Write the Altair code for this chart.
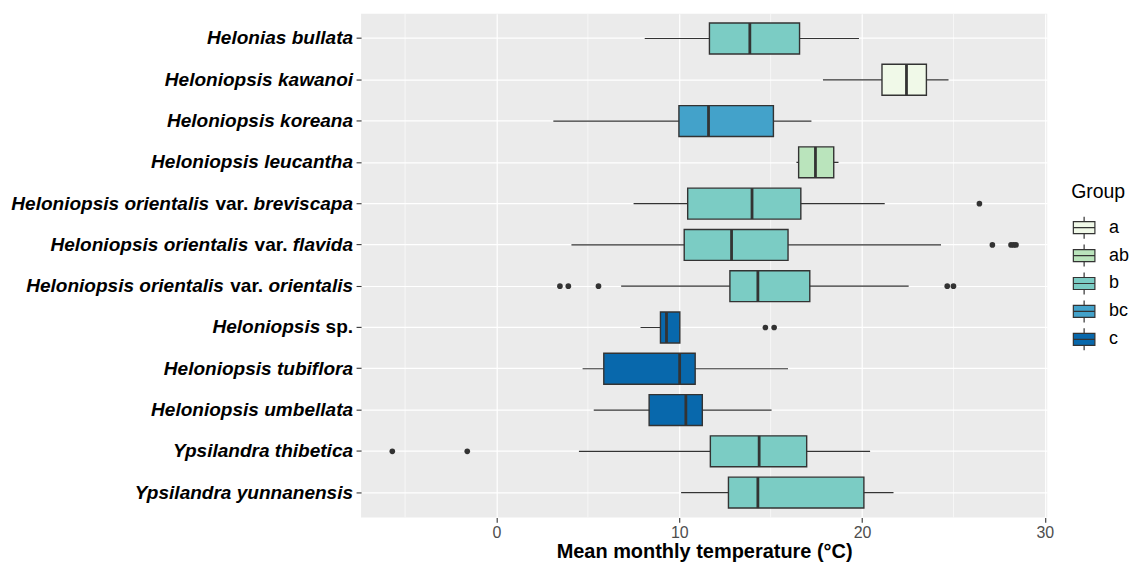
import altair as alt
import pandas as pd

# ---------------- data ----------------
species = [
    "Helonias bullata",
    "Heloniopsis kawanoi",
    "Heloniopsis koreana",
    "Heloniopsis leucantha",
    "Heloniopsis orientalis var. breviscapa",
    "Heloniopsis orientalis var. flavida",
    "Heloniopsis orientalis var. orientalis",
    "Heloniopsis sp.",
    "Heloniopsis tubiflora",
    "Heloniopsis umbellata",
    "Ypsilandra thibetica",
    "Ypsilandra yunnanensis",
]
group = ["b", "a", "bc", "ab", "b", "b", "b", "c", "c", "c", "b", "b"]
lower = [8.11, 17.86, 3.11, 16.41, 7.50, 4.10, 6.82, 7.88, 4.71, 5.32, 4.51, 10.10]
q1 = [11.65, 21.09, 9.98, 16.53, 10.46, 10.27, 12.77, 8.97, 5.87, 8.35, 11.70, 12.69]
median = [13.86, 22.43, 11.60, 17.45, 13.98, 12.86, 14.30, 9.30, 10.02, 10.36, 14.37, 14.30]
q3 = [16.58, 23.52, 15.15, 18.45, 16.65, 15.95, 17.14, 10.03, 10.87, 11.26, 16.97, 20.10]
upper = [19.83, 24.73, 17.23, 18.71, 21.24, 24.32, 22.55, 10.03, 15.95, 15.05, 20.44, 21.72]

outlier_species = [
    "Heloniopsis orientalis var. breviscapa",
    "Heloniopsis orientalis var. flavida",
    "Heloniopsis orientalis var. flavida",
    "Heloniopsis orientalis var. flavida",
    "Heloniopsis orientalis var. flavida",
    "Heloniopsis orientalis var. orientalis",
    "Heloniopsis orientalis var. orientalis",
    "Heloniopsis orientalis var. orientalis",
    "Heloniopsis orientalis var. orientalis",
    "Heloniopsis orientalis var. orientalis",
    "Heloniopsis sp.",
    "Heloniopsis sp.",
    "Ypsilandra thibetica",
    "Ypsilandra thibetica",
]
outlier_values = [26.42, 27.13, 28.15, 28.29, 28.42, 3.47, 3.93, 5.58, 24.66, 25.00,
                  14.71, 15.19, -5.70, -1.60]

groups = ["a", "ab", "b", "bc", "c"]
group_colors = ["#f0f9e8", "#bae4bc", "#7bccc4", "#43a2ca", "#0868ac"]

x_ticks = [0, 10, 20, 30]
x_minor = [-5, 5, 15, 25]
x_domain = [-7.41, 30.13]

# label parts: (text, italic?)
label_parts = {
    "Heloniopsis orientalis var. breviscapa": [("Heloniopsis orientalis", True), ("var.", False), ("breviscapa", True)],
    "Heloniopsis orientalis var. flavida": [("Heloniopsis orientalis", True), ("var.", False), ("flavida", True)],
    "Heloniopsis orientalis var. orientalis": [("Heloniopsis orientalis", True), ("var.", False), ("orientalis", True)],
    "Heloniopsis sp.": [("Heloniopsis", True), ("sp.", False)],
}

# ---------------- layout / style ----------------
FONT = "Liberation Sans"
LABEL_SIZE = 19.1
W, H = 688, 505

# Arial/Liberation Sans Bold advance widths (per 1000 em)
ADV = {"a": 556, "b": 611, "c": 556, "d": 611, "e": 556, "f": 333, "h": 611, "i": 278,
       "k": 556, "l": 278, "m": 889, "n": 611, "o": 611, "p": 611, "r": 389, "s": 556,
       "t": 333, "u": 611, "v": 556, "w": 778, "y": 556, " ": 278, ".": 278}


def text_width(s):
    return sum(ADV.get(ch, 600) for ch in s) / 1000.0 * LABEL_SIZE


label_right = -8
rows = []
for sp in species:
    parts = label_parts.get(sp, [(sp, True)])
    offset = 0.0
    for text, ital in reversed(parts):
        rows.append({"species": sp, "text": text, "italic": ital, "px": label_right - offset})
        offset += text_width(text) + text_width(" ")
labels_df = pd.DataFrame(rows)

box_df = pd.DataFrame({"species": species, "group": group, "lower": lower, "q1": q1,
                       "median": median, "q3": q3, "upper": upper})
out_df = pd.DataFrame({"species": outlier_species, "value": outlier_values})
minor_df = pd.DataFrame({"v": x_minor})

y_enc = alt.Y("species:N", sort=species,
              scale=alt.Scale(domain=species, paddingInner=0, paddingOuter=0.1),
              axis=alt.Axis(labels=False, title=None, ticks=True, tickSize=5, tickColor="#333333",
                            tickWidth=1.1, domain=False, grid=True, gridColor="white", gridWidth=1.2))

x_scale = alt.Scale(domain=x_domain, nice=False, zero=False)
x_axis = alt.Axis(values=x_ticks, title="Mean monthly temperature (°C)", grid=True,
                  gridColor="white", gridWidth=1.2, domain=False, tickColor="#333333",
                  tickSize=5, tickWidth=1.1, labelColor="#4D4D4D", labelFontSize=16,
                  labelFont=FONT, labelPadding=2, titleFont=FONT, titleFontSize=20,
                  titleFontWeight="bold", titleColor="black", titlePadding=1)

minor = alt.Chart(minor_df).mark_rule(color="white", strokeWidth=0.6).encode(
    x=alt.X("v:Q", scale=x_scale, axis=x_axis)
)

whisk = alt.Chart(box_df).mark_rule(color="#333333", strokeWidth=1.2).encode(
    x=alt.X("lower:Q", scale=x_scale), x2="upper:Q", y=y_enc
)

box = alt.Chart(box_df).mark_bar(size=31, stroke="#333333", strokeWidth=1.4).encode(
    x=alt.X("q1:Q", scale=x_scale),
    x2="q3:Q",
    y=y_enc,
    fill=alt.Fill("group:N", scale=alt.Scale(domain=groups, range=group_colors),
                  legend=alt.Legend(
                      title="Group", orient="none", legendX=712, legendY=170,
                      titleFont=FONT, titleFontSize=19.5, titleFontWeight="normal",
                      titleColor="black", titlePadding=12,
                      labelFont=FONT, labelFontSize=18, labelColor="black", labelOffset=12,
                      symbolType="M-0.9,-0.5H0.9V0.5H-0.9Z M-0.9,0H0.9 M0,-0.5V-0.92 M0,0.5V0.92",
                      symbolSize=576, symbolStrokeColor="#333333", symbolStrokeWidth=1.2,
                      symbolOpacity=1, rowPadding=0)),
)

med = alt.Chart(box_df).mark_tick(color="#333333", thickness=2.8, size=31, opacity=1).encode(
    x=alt.X("median:Q", scale=x_scale), y=y_enc
)

pts = alt.Chart(out_df).mark_circle(color="#333333", size=32, opacity=1).encode(
    x=alt.X("value:Q", scale=x_scale), y=y_enc
)

lab_it = alt.Chart(labels_df).transform_filter("datum.italic").mark_text(
    align="right", baseline="middle", font=FONT, fontSize=LABEL_SIZE, fontWeight="bold",
    fontStyle="italic", color="black"
).encode(x=alt.X("px:Q", scale=None), y=y_enc, text="text:N")

lab_up = alt.Chart(labels_df).transform_filter("!datum.italic").mark_text(
    align="right", baseline="middle", font=FONT, fontSize=LABEL_SIZE, fontWeight="bold",
    fontStyle="normal", color="black"
).encode(x=alt.X("px:Q", scale=None), y=y_enc, text="text:N")

chart = alt.layer(minor, whisk, box, med, pts, lab_it, lab_up).properties(
    width=W, height=H, padding={"left": 3, "top": 4, "right": 0, "bottom": 0},
    background="white"
).configure_view(fill="#EBEBEB", stroke=None)

chart.save("out.html", embed_options={"renderer": "svg", "actions": False})
